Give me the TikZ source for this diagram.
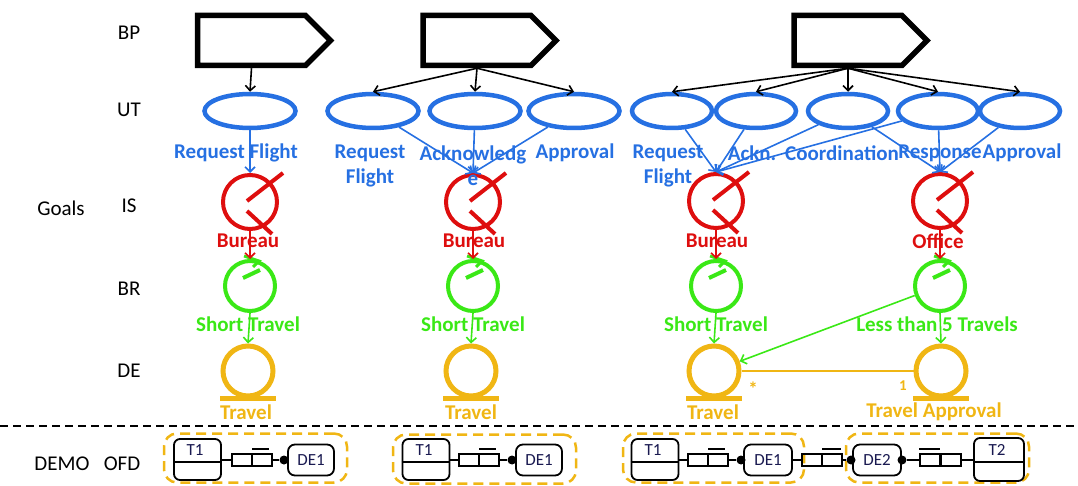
\documentclass[tikz,border=0pt]{standalone}
\usepackage{fontspec}
\setmainfont{Carlito}
\usetikzlibrary{shapes.geometric,shapes.symbols,arrows.meta,calc}
\definecolor{ublue}{RGB}{38,112,226}
\definecolor{ired}{RGB}{222,14,14}
\definecolor{bgreen}{RGB}{58,232,22}
\definecolor{dorange}{RGB}{240,182,20}
\definecolor{tnavy}{RGB}{25,25,80}
\newcommand\isdeco[1]{%
  \draw[ired,line width=4pt] ($(#1)+(-3,-1)$) -- ($(#1)+(33,-29)$);
  \draw[ired,line width=4pt] ($(#1)+(-3,9)$) -- ($(#1)+(22,32)$);}
\newcommand\brdeco[1]{%
  \draw[bgreen,line width=4pt] ($(#1)+(-7,-8)$) -- ($(#1)+(10,-16)$);
  \draw[bgreen,line width=3pt] ($(#1)+(-6,-30)$) -- ($(#1)+(9,-25)$) -- ($(#1)+(3,-19)$);}
\newcommand\dedeco[1]{%
  \draw[dorange,line width=5pt] ($(#1)+(-28,27)$) -- ($(#1)+(28,27)$);}
\begin{document}
\begin{tikzpicture}[x=1pt,y=-1pt,
  side/.style={font=\fontsize{21}{23}\selectfont, text=black, inner sep=0},
  bpbox/.style={draw, line width=5.5pt, signal, signal to=east, signal pointer angle=90,
     minimum width=133pt, minimum height=50pt, inner sep=0},
  ut/.style={ellipse, draw=ublue, line width=4.5pt, minimum width=91pt, minimum height=34pt, inner sep=0},
  uts/.style={ut, minimum width=80pt},
  is/.style={circle, draw=ired, line width=4pt, minimum size=54pt, inner sep=0},
  br/.style={circle, draw=bgreen, line width=4pt, minimum size=50pt, inner sep=0},
  de/.style={circle, draw=dorange, line width=5pt, minimum size=50pt, inner sep=0},
  lab/.style={font=\fontsize{21}{25}\selectfont\bfseries, inner sep=0, align=center},
  bl/.style={lab, text=ublue},
  rl/.style={lab, text=ired},
  gl/.style={lab, text=bgreen},
  ol/.style={lab, text=dorange},
  karrow/.style={draw=black, line width=1.6pt, -{Straight Barb[length=5pt,width=10pt]}},
  barrow/.style={draw=ublue, line width=1.6pt, -{Straight Barb[length=5pt,width=10pt]}},
  rarrow/.style={draw=ired, line width=1.6pt, -{Straight Barb[length=5pt,width=10pt]}},
  garrow/.style={draw=bgreen, line width=1.6pt, -{Straight Barb[length=5pt,width=10pt]}},
  tb/.style={draw, line width=1.8pt, rounded corners=6pt, minimum width=47pt, minimum height=41pt, inner sep=0},
  db/.style={draw, line width=1.8pt, rounded corners=7pt, minimum width=46pt, minimum height=31pt, inner sep=0,
     font=\fontsize{17}{19}\selectfont, text=tnavy},
  tt/.style={font=\fontsize{17}{19}\selectfont, text=tnavy, inner sep=0},
  ch/.style={draw, line width=1.8pt, minimum width=20pt, minimum height=12pt, inner sep=0},
  dot/.style={circle, fill=black, minimum size=9pt, inner sep=0},
  grp/.style={draw=dorange, line width=2.5pt, dash pattern=on 10pt off 6pt, rounded corners=13pt,
     minimum width=183pt, minimum height=49pt, inner sep=0},
  ofd/.style={line width=1.8pt}
]
\path[use as bounding box] (0,0) rectangle (1078,486);

% side labels
\node[side] (lbp) at (129,33) {BP};
\node[side] (lut) at (129,110) {UT};
\node[side] (lis) at (129,206) {IS};
\node[side] (lbr) at (129,289) {BR};
\node[side] (lde) at (129,371) {DE};
\node[side] (lgoals) at (61,208) {Goals};
\node[side] (ldemo) at (62,464) {DEMO};
\node[side] (lofd) at (122,464) {OFD};

% separator
\coordinate (sepl) at (0,426);
\coordinate (sepr) at (1078,426);
\draw[line width=1.5pt, dash pattern=on 8pt off 5pt] (sepl) -- (sepr);

% BP shapes
\node[bpbox] (bp1) at (251.5,40.5) {};
\node[bpbox] (bp2) at (477,40.5) {};
\node[bpbox] (bp3) at (848,40.5) {};

% UT ellipses
\node[ut] (ut1) at (250,111) {};
\node[ut] (ut2) at (373,111) {};
\node[ut] (ut3) at (475,111) {};
\node[ut] (ut4) at (574,111) {};
\node[uts] (ut5) at (672,111) {};
\node[uts] (ut6) at (756,111) {};
\node[uts] (ut7) at (848,111) {};
\node[uts] (ut8) at (938,111) {};
\node[uts] (ut9) at (1020,111) {};

\draw[karrow] (bp1.south) -- (ut1.north);
\draw[karrow] (bp2.south) -- (ut2.north);
\draw[karrow] (bp2.south) -- (ut3.north);
\draw[karrow] (bp2.south) -- (ut4.north);
\draw[karrow] (bp3.south) -- (ut5.north);
\draw[karrow] (bp3.south) -- (ut6.north);
\draw[karrow] (bp3.south) -- (ut7.north);
\draw[karrow] (bp3.south) -- (ut8.north);
\draw[karrow] (bp3.south) -- (ut9.north);

% IS
\node[is] (is1) at (250,202) {};
\node[is] (is2) at (473,202) {};
\node[is] (is3) at (716,201) {};
\node[is] (is4) at (940,201) {};
\isdeco{is1}\isdeco{is2}\isdeco{is3}\isdeco{is4}

% BR
\node[br] (br1) at (250,286) {};
\node[br] (br2) at (473,286) {};
\node[br] (br3) at (716,286) {};
\node[br] (br4) at (940,286) {};
\brdeco{br1}\brdeco{br2}\brdeco{br3}\brdeco{br4}

% DE
\node[de] (de1) at (248,371) {};
\node[de] (de2) at (471,371) {};
\node[de] (de3) at (714,371) {};
\node[de] (de4) at (941,371) {};
\dedeco{de1}\dedeco{de2}\dedeco{de3}\dedeco{de4}

% UT -> IS arrows
\draw[barrow] (ut1) -- (is1.north);
\draw[barrow] (ut2) -- (is2.north);
\draw[barrow] (ut3) -- (is2.north);
\draw[barrow] (ut4) -- (is2.north);
\draw[barrow] (ut5) -- (is3.north);
\draw[barrow] (ut6) -- (is3.north);
\draw[barrow] (ut7) -- (is3.north);
\draw[barrow] (ut8) -- (is3.north);
\draw[barrow] (ut7) -- (is4.north);
\draw[barrow] (ut8) -- (is4.north);
\draw[barrow] (ut9) -- (is4.north);

% IS -> BR
\draw[rarrow] (is1.south) -- (br1.north);
\draw[rarrow] (is2.south) -- (br2.north);
\draw[rarrow] (is3.south) -- (br3.north);
\draw[rarrow] (is4.south) -- (br4.north);

% BR -> DE
\draw[garrow] (br1.south) -- (de1.north);
\draw[garrow] (br2.south) -- (de2.north);
\draw[garrow] (br3.south) -- (de3.north);
\draw[garrow] (br4.south) -- (de4.north);
\draw[garrow] (br4) -- (de3);

% DE association
\draw[dorange, line width=2.5pt] (de3) -- (de4);
\node[font=\fontsize{19}{20}\selectfont\bfseries, text=dorange, inner sep=0] (mstar) at (753,389) {*};
\node[font=\fontsize{15}{16}\selectfont\bfseries, text=dorange, inner sep=0] (mone) at (903,386) {1};

% UT labels
\node[bl] (t1a) at (236,153) {Request Flight};
\node[bl] (t2a) at (370,165.5) {Request\\Flight};
\node[bl] (t2b) at (473,165.5) {Acknowledg\\e};
\node[bl] (t2c) at (575,153) {Approval};
\node[bl] (t3a) at (668,165.5) {Request\\Flight};
\node[bl] (t3b) at (752,153) {Ackn.};
\node[bl] (t3c) at (842,153) {Coordination};
\node[bl] (t3d) at (940,153) {Response};
\node[bl] (t3e) at (1022,153) {Approval};

% IS labels
\node[rl] (r1) at (248,241) {Bureau};
\node[rl] (r2) at (474,241) {Bureau};
\node[rl] (r3) at (717,241) {Bureau};
\node[rl] (r4) at (938,241) {Office};

% BR labels
\node[gl] (g1) at (248,324) {Short Travel};
\node[gl] (g2) at (473,324) {Short Travel};
\node[gl] (g3) at (716,324) {Short Travel};
\node[gl] (g4) at (937,324) {Less than 5 Travels};

% DE labels
\node[ol] (o1) at (246,412) {Travel};
\node[ol] (o2) at (471,412) {Travel};
\node[ol] (o3) at (713,412) {Travel};
\node[ol] (o4) at (934,412) {Travel Approval};

% OFD column 1
\node[grp] (grp1) at (255.5,458) {};
\node[tb] (ta1) at (197.5,459.5) {};
\draw[ofd] ($(ta1.west)+(0,2.5)$) -- ($(ta1.east)+(0,2.5)$);
\node[tt] (ta1t) at (195,450) {T1};
\node[ch] (c1a) at (242,460) {};
\node[ch] (c1b) at (262,460) {};
\draw[line width=2pt] ($(c1b.north west)+(1,-4)$) -- ($(c1b.north east)+(-4,-4)$);
\node[dot] (d1) at (284,460) {};
\node[db] (e1) at (311,460) {DE1};
\draw[ofd] (ta1.east |- c1a.west) -- (c1a.west);
\draw[ofd] (c1b.east) -- (d1);

% OFD column 2
\node[grp] (grp2) at (484.5,459) {};
\node[tb] (ta2) at (426,459.5) {};
\draw[ofd] ($(ta2.west)+(0,2.5)$) -- ($(ta2.east)+(0,2.5)$);
\node[tt] (ta2t) at (424,450) {T1};
\node[ch] (c2a) at (469,460) {};
\node[ch] (c2b) at (489,460) {};
\draw[line width=2pt] ($(c2b.north west)+(1,-4)$) -- ($(c2b.north east)+(-4,-4)$);
\node[dot] (d2) at (512,460) {};
\node[db] (e2) at (539,460) {DE1};
\draw[ofd] (ta2.east |- c2a.west) -- (c2a.west);
\draw[ofd] (c2b.east) -- (d2);

% OFD column 3
\node[grp, minimum width=181pt] (grp3) at (713.5,458) {};
\node[grp] (grp4) at (937.5,458) {};
\node[tb] (ta3) at (655,459.5) {};
\draw[ofd] ($(ta3.west)+(0,2.5)$) -- ($(ta3.east)+(0,2.5)$);
\node[tt] (ta3t) at (653,450) {T1};
\node[ch] (c3a) at (698,460) {};
\node[ch] (c3b) at (718,460) {};
\draw[line width=2pt] ($(c3b.north west)+(1,-4)$) -- ($(c3b.north east)+(-4,-4)$);
\node[dot] (d3) at (741,460) {};
\node[db, minimum width=48pt] (e3) at (768,460) {DE1};
\draw[ofd] (ta3.east |- c3a.west) -- (c3a.west);
\draw[ofd] (c3b.east) -- (d3);
\node[ch] (c3c) at (812,460) {};
\node[ch] (c3d) at (832,460) {};
\draw[line width=2pt] ($(c3d.north west)+(1,-4)$) -- ($(c3d.north east)+(-2,-4)$);
\draw[ofd] (e3.east) -- (c3c.west);
\node[dot] (d4) at (851,460) {};
\draw[ofd] (c3d.east) -- (d4);
\node[db, minimum width=48pt] (e4) at (877,460) {DE2};
\node[dot] (d5) at (902,460) {};
\node[ch] (c3e) at (930,460) {};
\node[ch] (c3f) at (951,460) {};
\draw[line width=2pt] ($(c3e.north west)+(0,-4)$) -- ($(c3e.north east)+(-1,-4)$);
\draw[ofd] (d5) -- (c3e.west);
\node[tb, minimum width=50pt, minimum height=43pt] (ta4) at (999,459.5) {};
\draw[ofd] ($(ta4.west)+(0,2.5)$) -- ($(ta4.east)+(0,2.5)$);
\node[tt] (ta4t) at (997,450) {T2};
\draw[ofd] (c3f.east) -- (ta4.west |- c3f.east);
\end{tikzpicture}
\end{document}
